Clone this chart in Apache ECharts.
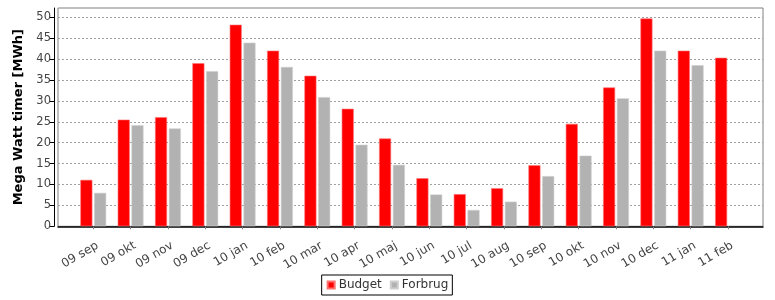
<!DOCTYPE html>
<html>
<head>
<meta charset="utf-8">
<script src="https://cdn.jsdelivr.net/npm/echarts@6/dist/echarts.min.js"></script>
<style>
html,body{margin:0;padding:0;background:#fff;}
#c{width:775px;height:300px;}
</style>
</head>
<body>
<div id="c"></div>
<script>
var categories = ['09 sep','09 okt','09 nov','09 dec','10 jan','10 feb','10 mar','10 apr','10 maj','10 jun','10 jul','10 aug','10 sep','10 okt','10 nov','10 dec','11 jan','11 feb'];
var budget  = [11.1, 25.5, 26.1, 39.0, 48.2, 42.0, 36.0, 28.1, 21.0, 11.5, 7.7, 9.1, 14.6, 24.5, 33.2, 49.7, 42.0, 40.3];
var forbrug = [8.0, 24.2, 23.4, 37.1, 43.9, 38.1, 30.9, 19.5, 14.7, 7.6, 3.9, 5.9, 12.0, 16.9, 30.6, 42.0, 38.5, null];
var yTicks = [0, 5, 10, 15, 20, 25, 30, 35, 40, 45, 50];
var yMin = 0, yMax = 52.2, yStep = 5;
var seriesNames = ['Budget', 'Forbrug'];
var colors = ['#ff0000', '#b2b2b2'];
var FONT = 'DejaVu Sans';

var chart = echarts.init(document.getElementById('c'), null, {renderer: 'canvas'});
chart.setOption({
  animation: false,
  backgroundColor: '#ffffff',
  textStyle: {fontFamily: FONT},
  legend: {
    top: 275, left: 'center',
    data: seriesNames,
    icon: 'rect', itemWidth: 7, itemHeight: 7, itemGap: 8,
    borderColor: '#000', borderWidth: 1, borderRadius: 0,
    padding: [4, 4, 4, 5],
    textStyle: {fontFamily: FONT, fontSize: 12, color: '#333', padding: [0, 0, 0, -1]}
  },
  grid: [
    {left: 58, right: 12, top: 8, bottom: 73.7, show: true, borderColor: '#808080', borderWidth: 1, backgroundColor: '#fff'},
    {left: 74.6, right: 28.3, top: 8, bottom: 73.7}
  ],
  xAxis: [
    {gridIndex: 0, type: 'category', data: categories, offset: 4,
     axisLine: {show: true, lineStyle: {color: '#000', width: 1.5}},
     axisTick: {show: false}, axisLabel: {show: false}, splitLine: {show: false}},
    {gridIndex: 1, type: 'category', data: categories, offset: 4,
     axisLine: {show: false},
     axisTick: {show: true, alignWithLabel: true, length: 3, lineStyle: {color: '#808080'}},
     axisLabel: {rotate: 30, margin: 17, padding: [0, -5, 0, 0], fontFamily: FONT, fontSize: 12, color: '#444', interval: 0},
     splitLine: {show: false}}
  ],
  yAxis: [
    {gridIndex: 0, type: 'value', min: yMin, max: yMax, interval: yStep, offset: 4,
     name: 'Mega Watt timer [MWh]', nameLocation: 'middle', nameGap: 28,
     nameTextStyle: {fontFamily: FONT, fontSize: 13, fontWeight: 'bold', color: '#000'},
     axisLine: {show: true, lineStyle: {color: '#000', width: 1}},
     axisTick: {show: true, length: 4, customValues: yTicks, lineStyle: {color: '#000'}},
     axisLabel: {customValues: yTicks, margin: 3, fontFamily: FONT, fontSize: 11.5, color: '#444'},
     splitLine: {show: true, lineStyle: {color: '#a0a0a0', type: [2, 2], width: 1}}},
    {gridIndex: 1, type: 'value', min: yMin, max: yMax, interval: yStep, show: false, splitLine: {show: false}}
  ],
  series: [
    {name: seriesNames[0], type: 'bar', xAxisIndex: 1, yAxisIndex: 1, data: budget,
     barWidth: 12, barGap: '15%', itemStyle: {color: colors[0], borderColor: '#ff7070', borderWidth: 0.6}},
    {name: seriesNames[1], type: 'bar', xAxisIndex: 1, yAxisIndex: 1, data: forbrug,
     barWidth: 12, barGap: '15%', itemStyle: {color: colors[1], borderColor: '#cfcfcf', borderWidth: 0.6}}
  ]
});
</script>
</body>
</html>
